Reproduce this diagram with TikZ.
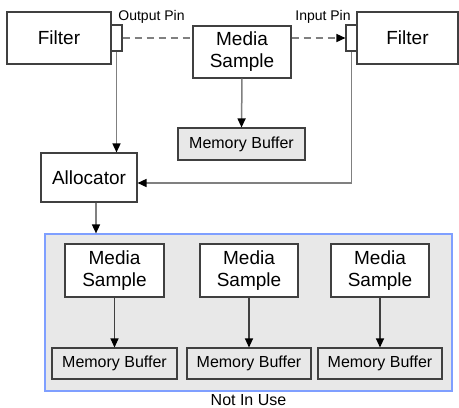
\documentclass[tikz,border=0pt]{standalone}
\usepackage{fontspec}
\setmainfont{Liberation Sans}
\usetikzlibrary{arrows.meta}
\definecolor{boxline}{HTML}{404040}
\definecolor{conncol}{HTML}{808080}
\definecolor{fillgray}{HTML}{E8E8E8}
\definecolor{grpblue}{HTML}{7F9FFF}
\tikzset{
  box/.style={draw=boxline, line width=1.1pt, fill=white, inner sep=0pt, align=center, font=\fontsize{19}{22}\selectfont},
  bufbox/.style={box, fill=fillgray, font=\fontsize{16}{19}\selectfont},
  pinbox/.style={draw=boxline, line width=1.1pt, fill=white, inner sep=0pt, minimum width=11pt, minimum height=26pt},
  lbl/.style={inner sep=0pt, font=\fontsize{14}{16}\selectfont},
  connline/.style={draw=conncol, line width=1.5pt},
  arr/.style={-{Triangle[length=9pt,width=8pt,fill=black,color=black]}},
  dashline/.style={connline, dash pattern=on 7pt off 5pt},
}
\begin{document}
\begin{tikzpicture}[x=1pt,y=-1pt]
\useasboundingbox (0,0) rectangle (459,408);
% group
\node[draw=grpblue, line width=1.2pt, fill=fillgray, minimum width=407pt, minimum height=157pt, inner sep=0pt] (grp) at (248.5,312.5) {};
\node[inner sep=0pt, font=\fontsize{16}{19}\selectfont] (nu) at (248.5,400.5) {Not In Use};
% top row
\node[box, minimum width=104pt, minimum height=52pt] (f1) at (59,38) {Filter};
\node[pinbox] (op) at (116.5,38) {};
\node[box, minimum width=98pt, minimum height=52pt] (ms) at (242,52) {Media\\Sample};
\node[pinbox] (ip) at (351.5,38) {};
\node[box, minimum width=101pt, minimum height=52pt] (f2) at (407.5,38) {Filter};
\node[lbl] (opl) at (151.5,17) {Output Pin};
\node[lbl] (ipl) at (323,17) {Input Pin};
\node[bufbox, minimum width=127pt, minimum height=32pt] (mb) at (241.5,144) {Memory Buffer};
\node[box, minimum width=96pt, minimum height=49pt] (al) at (89,177.5) {Allocator};
% samples in group
\node[box, minimum width=99pt, minimum height=53pt] (s1) at (114.5,270.5) {Media\\Sample};
\node[box, minimum width=98pt, minimum height=53pt] (s2) at (249,270.5) {Media\\Sample};
\node[box, minimum width=98pt, minimum height=53pt] (s3) at (380,270.5) {Media\\Sample};
\node[bufbox, minimum width=125pt, minimum height=31pt] (b1) at (114.5,363.5) {Memory Buffer};
\node[bufbox, minimum width=124pt, minimum height=31pt] (b2) at (249,363.5) {Memory Buffer};
\node[bufbox, minimum width=124pt, minimum height=31pt] (b3) at (380,363.5) {Memory Buffer};
% connectors
\draw[dashline] (op.east) -- (ms.west |- op.east);
\draw[dashline, arr] (ms.east |- ip.west) -- (ip.west);
\draw[connline, arr] (ms.south) -- (mb.north);
\draw[connline, arr] (op.south) -- (op.south |- al.north);
\coordinate (corner) at (ip.south |- 0,183);
\draw[connline, arr] (ip.south) -- (corner) -- (al.east |- corner);
\coordinate (alb) at (96,0);
\draw[connline, arr] (alb |- al.south) -- (alb |- grp.north);
\draw[boxline, line width=1.2pt, arr] (s1.south) -- (b1.north);
\draw[boxline, line width=1.2pt, arr] (s2.south) -- (b2.north);
\draw[boxline, line width=1.2pt, arr] (s3.south) -- (b3.north);
\end{tikzpicture}
\end{document}
